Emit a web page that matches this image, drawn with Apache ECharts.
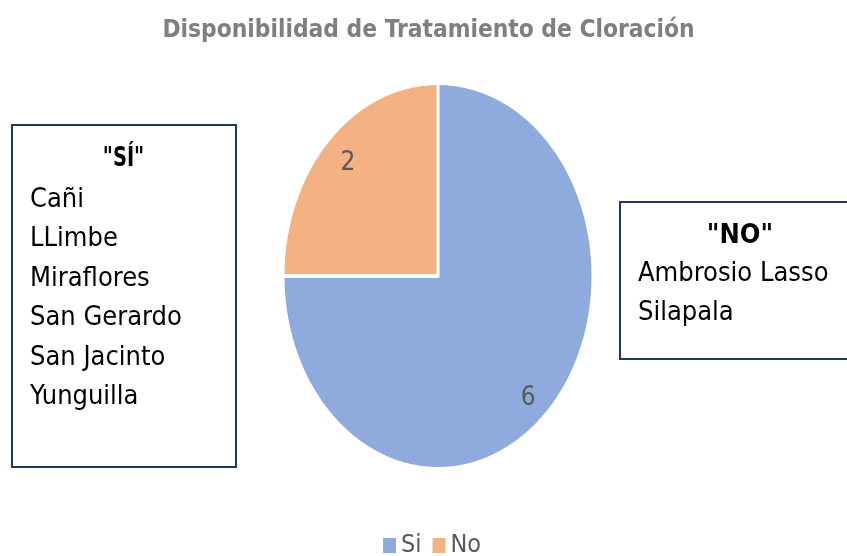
<!DOCTYPE html>
<html><head><meta charset="utf-8">
<script src="https://cdn.jsdelivr.net/npm/echarts@6/dist/echarts.min.js"></script>
<style>
html,body{margin:0;padding:0;background:#fff;}
#wrap{position:relative;width:847px;height:556px;overflow:hidden;background:#fff;}
#pie{position:absolute;left:0;top:0;width:847px;height:556px;transform-origin:438px 276px;transform:scaleY(1.244);}
#main{position:absolute;left:0;top:0;width:847px;height:556px;}
</style></head>
<body><div id="wrap"><div id="pie"></div><div id="main"></div></div>
<script>
const titleText = 'Disponibilidad de Tratamiento de Cloración';
const categories = ['Si', 'No'];
const values = [6, 2];
const colors = ['#8faadc', '#f4b183'];
const siHeading = '"SÍ"';
const siNames = ['Cañi', 'LLimbe', 'Miraflores', 'San Gerardo', 'San Jacinto', 'Yunguilla'];
const noHeading = '"NO"';
const noNames = ['Ambrosio Lasso', 'Silapala'];

const cond = '"DejaVu Sans Condensed", "DejaVu Sans", sans-serif';

// Stretched pie (the reference pie is an ellipse)
const pieChart = echarts.init(document.getElementById('pie'), null, { renderer: 'canvas', devicePixelRatio: 2 });
pieChart.setOption({
  animation: false,
  series: [{
    type: 'pie',
    center: [438, 276],
    radius: 155,
    startAngle: 90,
    clockwise: true,
    silent: true,
    label: { show: false },
    labelLine: { show: false },
    itemStyle: { borderColor: '#ffffff', borderWidth: 3 },
    data: categories.map((n, i) => ({ name: n, value: values[i], itemStyle: { color: colors[i] } }))
  }]
});

// Overlay: title, legend, value labels, annotation boxes
const chart = echarts.init(document.getElementById('main'));
chart.setOption({
  animation: false,
  title: {
    text: titleText,
    left: 423.5,
    top: 14,
    textAlign: 'center',
    textStyle: { fontFamily: cond, fontWeight: 'bold', fontSize: 24.3, color: '#7f7f7f' }
  },
  legend: {
    data: categories.map((n, i) => ({ name: n, itemStyle: { color: colors[i], opacity: 1 } })),
    left: 383,
    top: 533,
    padding: 0,
    icon: 'rect',
    itemWidth: 13,
    itemHeight: 15,
    itemGap: 11,
    textStyle: { fontFamily: cond, fontSize: 25, color: '#595959' }
  },
  series: [{
    type: 'pie',
    center: [438, 281],
    radius: [100, 190],
    startAngle: 82.5,
    clockwise: true,
    silent: true,
    label: { show: true, position: 'inside', formatter: '{c}', fontFamily: cond, fontSize: 26, color: '#595959' },
    labelLine: { show: false },
    emphasis: { disabled: true },
    data: categories.map((n, i) => ({ name: n, value: values[i], itemStyle: { color: 'rgba(0,0,0,0)' } }))
  }],
  graphic: [
    { type: 'rect', shape: { x: 12, y: 125, width: 224, height: 342 }, style: { fill: 'transparent', stroke: '#1f3864', lineWidth: 2 } },
    { type: 'text', x: 123.5, y: 159, scaleX: 0.8, style: { text: siHeading, fontFamily: cond, fontWeight: 'bold', fontSize: 27, fill: '#000', align: 'center', verticalAlign: 'middle' } },
    { type: 'text', x: 30, y: 298.5, style: { text: siNames.join('\n'), fontFamily: cond, fontSize: 27, lineHeight: 39.5, fill: '#000', align: 'left', verticalAlign: 'middle' } },
    { type: 'rect', shape: { x: 620, y: 202, width: 240, height: 157 }, style: { fill: 'transparent', stroke: '#1f3864', lineWidth: 2 } },
    { type: 'text', x: 740, y: 236, style: { text: noHeading, fontFamily: cond, fontWeight: 'bold', fontSize: 27, fill: '#000', align: 'center', verticalAlign: 'middle' } },
    { type: 'text', x: 638, y: 293.5, style: { text: noNames.join('\n'), fontFamily: cond, fontSize: 27, lineHeight: 38.5, fill: '#000', align: 'left', verticalAlign: 'middle' } }
  ]
});
</script>
</body></html>
